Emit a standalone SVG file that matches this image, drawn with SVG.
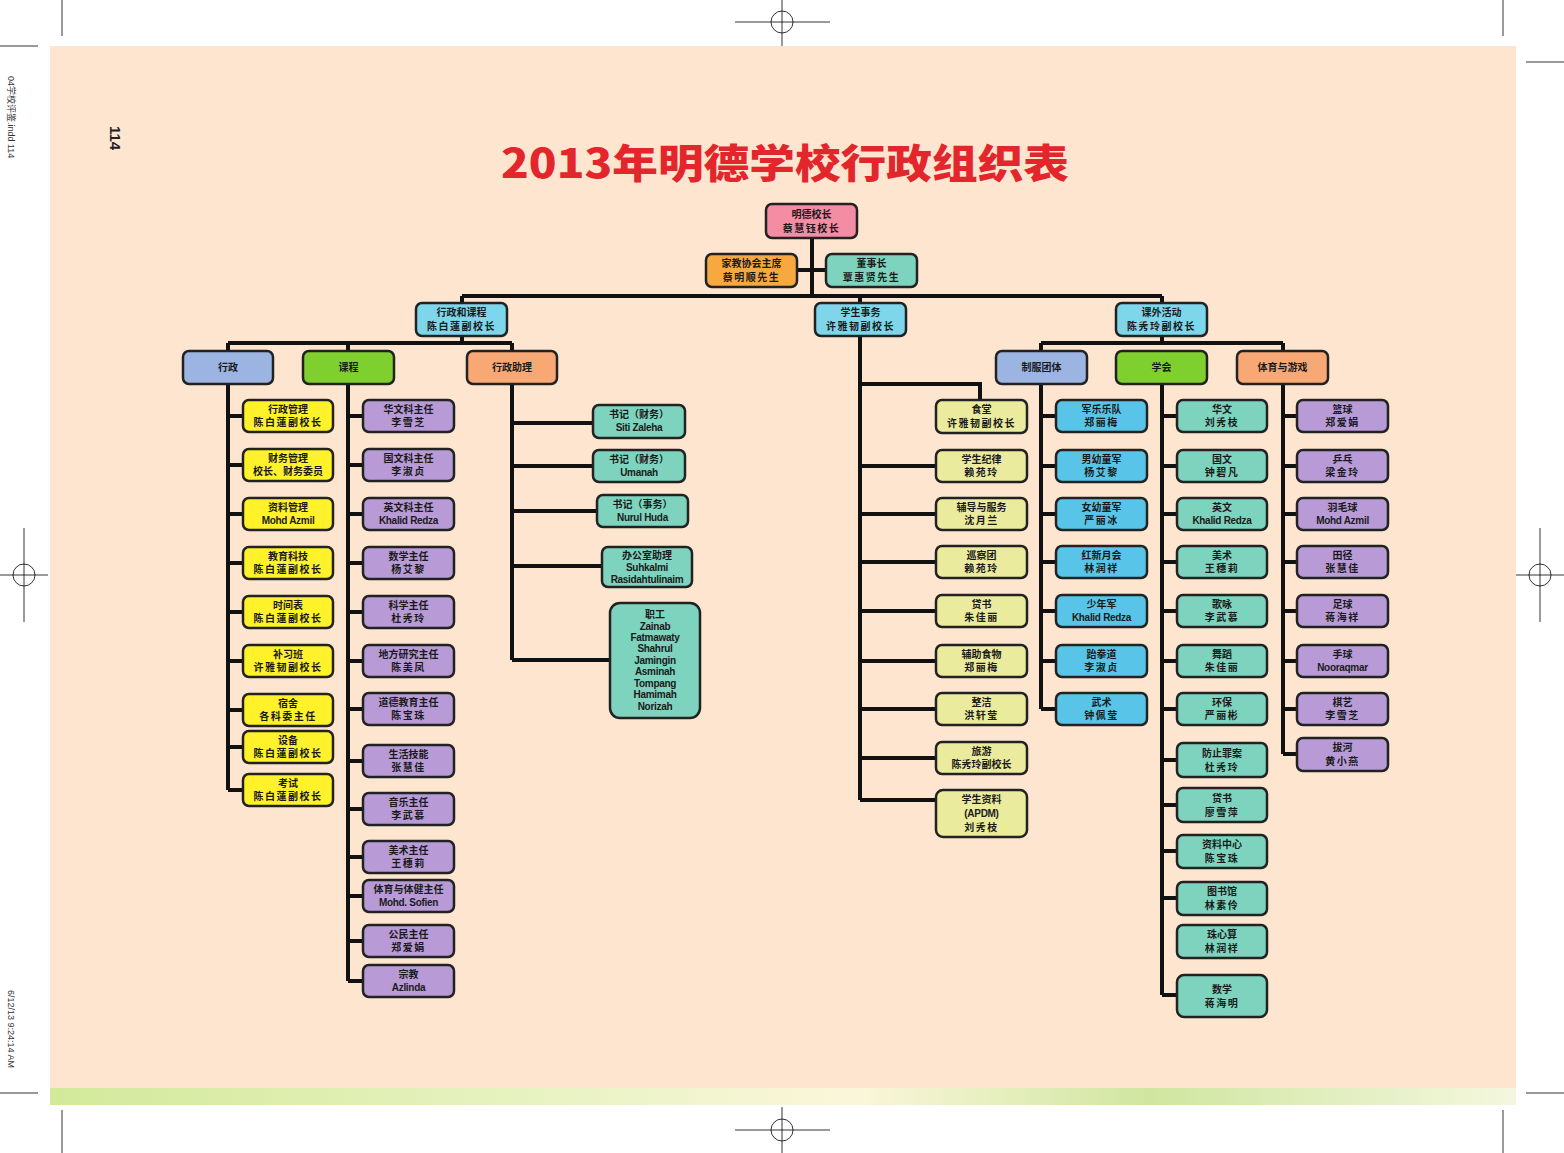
<svg xmlns="http://www.w3.org/2000/svg" width="1564" height="1153" viewBox="0 0 1564 1153">
<style>
.b{stroke:#222;stroke-width:2.5}
.pk{fill:#f48ca4}.or{fill:#f7a940}.tl{fill:#7dd3bd}.lb{fill:#7ed6ea}.bg{fill:#9cb4e2}.gr{fill:#7fcf2e}.ao{fill:#f8a875}
.yl{fill:#fff22a}.pu{fill:#b79ad6}.pg{fill:#ebeb9e}.cy{fill:#58c5e8}
.t{font-family:"Noto Sans CJK SC","Liberation Sans",sans-serif;font-weight:700;font-size:10px;text-anchor:middle;fill:#1a1a1a}
.l{font-family:"Liberation Sans","Noto Sans CJK SC",sans-serif;font-weight:700;font-size:10px;text-anchor:middle;fill:#1a1a1a;letter-spacing:-0.3px}
.n{letter-spacing:1.5px}
.c{fill:none;stroke:#111;stroke-width:4}
.m{fill:none;stroke:#000;stroke-width:0.8}
</style>
<defs>
<linearGradient id="gs" x1="0" y1="0" x2="1" y2="0">
<stop offset="0" stop-color="#d2e99a"/><stop offset="0.35" stop-color="#e9f3c4"/><stop offset="0.55" stop-color="#fbf6da"/><stop offset="0.75" stop-color="#cfe6a0"/><stop offset="1" stop-color="#f4f7de"/>
</linearGradient>
</defs>
<rect width="1564" height="1153" fill="#fff"/>
<rect x="50" y="46" width="1466" height="1043" fill="#fde5d0"/>
<rect x="50" y="1088" width="1466" height="17" fill="url(#gs)"/>
<!-- crop marks -->
<g id="marks">
<path class="m" d="M62 0V36M0 46H38M1503 0V36M1526 62H1564M62 1110V1153M0 1093H38M1503 1110V1153M1526 1093H1564"/>
<circle class="m" cx="782" cy="22" r="11"/><path class="m" d="M735 22H830M782 0V46"/>
<circle class="m" cx="782" cy="1130" r="11"/><path class="m" d="M735 1130H830M782 1107V1153"/>
<circle class="m" cx="24" cy="575" r="11"/><path class="m" d="M0 575H48M24 528V622"/>
<circle class="m" cx="1540" cy="575" r="11"/><path class="m" d="M1516 575H1564M1540 528V622"/>
</g>
<text x="8" y="76" transform="rotate(90 8 76)" style="font-family:'Liberation Sans','Noto Sans CJK SC',sans-serif;font-size:9px;fill:#333">04学校评鉴.indd   114</text>
<text x="8" y="990" transform="rotate(90 8 990)" style="font-family:'Liberation Sans',sans-serif;font-size:9px;fill:#333">6/12/13   9:24:14 AM</text>
<text x="110" y="126" transform="rotate(90 110 126)" style="font-family:'Liberation Sans',sans-serif;font-weight:700;font-size:15px;fill:#222">114</text>
<text x="785" y="178" textLength="568" lengthAdjust="spacingAndGlyphs" style="font-family:'Noto Sans CJK SC',sans-serif;font-weight:900;font-size:40px;text-anchor:middle;fill:#e2262c">2013年明德学校行政组织表</text>

<g id="connectors">
<path class="c" d="M812 238V296M797 270H826M462 296H1162M462 296V303M860 296V303M1162 296V303"/>
<path class="c" d="M462 336V343M228 343H512M228 343V351M348 343V351M512 343V351"/>
<path class="c" d="M228 384V790M228 416H243M228 465H243M228 514H243M228 563H243M228 612H243M228 661H243M228 710H243M228 747H243M228 790H243"/>
<path class="c" d="M348 384V981M348 416H363M348 465H363M348 514H363M348 563H363M348 612H363M348 661H363M348 709H363M348 761H363M348 809H363M348 857H363M348 896H363M348 941H363M348 981H363"/>
<path class="c" d="M512 384V660M512 423H593M512 466H593M512 511H597M512 566H602M512 660H610"/>
<path class="c" d="M860 336V800M860 384H980V400M860 466H936M860 514H936M860 562H936M860 611H936M860 661H936M860 709H936M860 758H936M860 800H936"/>
<path class="c" d="M1162 336V343M1041 343H1283M1041 343V351M1283 343V351"/>
<path class="c" d="M1041 384V709M1041 416H1056M1041 466H1056M1041 514H1056M1041 562H1056M1041 611H1056M1041 661H1056M1041 709H1056"/>
<path class="c" d="M1162 384V995M1162 416H1177M1162 466H1177M1162 514H1177M1162 562H1177M1162 611H1177M1162 661H1177M1162 709H1177M1162 760H1177M1162 805H1177M1162 851H1177M1162 898H1177M1162 995H1177"/>
<path class="c" d="M1283 384V754M1283 416H1297M1283 466H1297M1283 514H1297M1283 562H1297M1283 611H1297M1283 661H1297M1283 709H1297M1283 754H1297"/>
</g>

<!-- top -->
<g id="n-principal"><rect class="b pk" x="766" y="204" width="91" height="34" rx="6"/><text class="t" x="811.5" y="218">明德校长</text><text class="t n" x="811.5" y="232">蔡慧钰校长</text></g>
<g id="n-pta"><rect class="b or" x="706" y="254" width="91" height="33" rx="6"/><text class="t" x="751.5" y="267">家教协会主席</text><text class="t n" x="751.5" y="281">蔡明顺先生</text></g>
<g id="n-board"><rect class="b tl" x="826" y="254" width="91" height="33" rx="6"/><text class="t" x="871.5" y="267">董事长</text><text class="t n" x="871.5" y="281">覃惠贤先生</text></g>
<!-- level 2 -->
<g id="n-admincur"><rect class="b lb" x="416" y="303" width="91" height="33" rx="6"/><text class="t" x="461.5" y="316">行政和课程</text><text class="t n" x="461.5" y="330">陈白蓮副校长</text></g>
<g id="n-student"><rect class="b lb" x="815" y="303" width="91" height="33" rx="6"/><text class="t" x="860.5" y="316">学生事务</text><text class="t n" x="860.5" y="330">许雅韧副校长</text></g>
<g id="n-cocur"><rect class="b lb" x="1116" y="303" width="91" height="33" rx="6"/><text class="t" x="1161.5" y="316">课外活动</text><text class="t n" x="1161.5" y="330">陈秀玲副校长</text></g>
<!-- level 3 -->
<g id="n-admin"><rect class="b bg" x="183" y="351" width="90" height="33" rx="6"/><text class="t" x="228" y="371">行政</text></g>
<g id="n-cur"><rect class="b gr" x="303" y="351" width="91" height="33" rx="6"/><text class="t" x="348.5" y="371">课程</text></g>
<g id="n-assist"><rect class="b ao" x="467" y="351" width="90" height="33" rx="6"/><text class="t" x="512" y="371">行政助理</text></g>
<g id="n-uniform"><rect class="b bg" x="996" y="351" width="91" height="33" rx="6"/><text class="t" x="1041.5" y="371">制服团体</text></g>
<g id="n-society"><rect class="b gr" x="1116" y="351" width="91" height="33" rx="6"/><text class="t" x="1161.5" y="371">学会</text></g>
<g id="n-sports"><rect class="b ao" x="1237" y="351" width="91" height="33" rx="6"/><text class="t" x="1282.5" y="371">体育与游戏</text></g>

<!-- 行政 column -->
<g id="a1"><rect class="b yl" x="243" y="400" width="90" height="32" rx="6"/><text class="t" x="288" y="413">行政管理</text><text class="t n" x="288" y="426">陈白蓮副校长</text></g>
<g id="a2"><rect class="b yl" x="243" y="449" width="90" height="32" rx="6"/><text class="t" x="288" y="462">财务管理</text><text class="t" x="288" y="475">校长、财务委员</text></g>
<g id="a3"><rect class="b yl" x="243" y="498" width="90" height="32" rx="6"/><text class="t" x="288" y="511">资料管理</text><text class="l" x="288" y="524">Mohd Azmil</text></g>
<g id="a4"><rect class="b yl" x="243" y="547" width="90" height="32" rx="6"/><text class="t" x="288" y="560">教育科技</text><text class="t n" x="288" y="573">陈白蓮副校长</text></g>
<g id="a5"><rect class="b yl" x="243" y="596" width="90" height="32" rx="6"/><text class="t" x="288" y="609">时间表</text><text class="t n" x="288" y="622">陈白蓮副校长</text></g>
<g id="a6"><rect class="b yl" x="243" y="645" width="90" height="32" rx="6"/><text class="t" x="288" y="658">补习班</text><text class="t n" x="288" y="671">许雅韧副校长</text></g>
<g id="a7"><rect class="b yl" x="243" y="694" width="90" height="32" rx="6"/><text class="t" x="288" y="707">宿舍</text><text class="t n" x="288" y="720">各科委主任</text></g>
<g id="a8"><rect class="b yl" x="243" y="731" width="90" height="32" rx="6"/><text class="t" x="288" y="744">设备</text><text class="t n" x="288" y="757">陈白蓮副校长</text></g>
<g id="a9"><rect class="b yl" x="243" y="774" width="90" height="32" rx="6"/><text class="t" x="288" y="787">考试</text><text class="t n" x="288" y="800">陈白蓮副校长</text></g>

<!-- 课程 column -->
<g id="c1"><rect class="b pu" x="363" y="400" width="91" height="32" rx="6"/><text class="t" x="408.5" y="413">华文科主任</text><text class="t n" x="408.5" y="426">李雪芝</text></g>
<g id="c2"><rect class="b pu" x="363" y="449" width="91" height="32" rx="6"/><text class="t" x="408.5" y="462">国文科主任</text><text class="t n" x="408.5" y="475">李淑贞</text></g>
<g id="c3"><rect class="b pu" x="363" y="498" width="91" height="32" rx="6"/><text class="t" x="408.5" y="511">英文科主任</text><text class="l" x="408.5" y="524">Khalid Redza</text></g>
<g id="c4"><rect class="b pu" x="363" y="547" width="91" height="32" rx="6"/><text class="t" x="408.5" y="560">数学主任</text><text class="t n" x="408.5" y="573">杨艾黎</text></g>
<g id="c5"><rect class="b pu" x="363" y="596" width="91" height="32" rx="6"/><text class="t" x="408.5" y="609">科学主任</text><text class="t n" x="408.5" y="622">杜秀玲</text></g>
<g id="c6"><rect class="b pu" x="363" y="645" width="91" height="32" rx="6"/><text class="t" x="408.5" y="658">地方研究主任</text><text class="t n" x="408.5" y="671">陈美凤</text></g>
<g id="c7"><rect class="b pu" x="363" y="693" width="91" height="32" rx="6"/><text class="t" x="408.5" y="706">道德教育主任</text><text class="t n" x="408.5" y="719">陈宝珠</text></g>
<g id="c8"><rect class="b pu" x="363" y="745" width="91" height="32" rx="6"/><text class="t" x="408.5" y="758">生活技能</text><text class="t n" x="408.5" y="771">张慧佳</text></g>
<g id="c9"><rect class="b pu" x="363" y="793" width="91" height="32" rx="6"/><text class="t" x="408.5" y="806">音乐主任</text><text class="t n" x="408.5" y="819">李武慕</text></g>
<g id="c10"><rect class="b pu" x="363" y="841" width="91" height="32" rx="6"/><text class="t" x="408.5" y="854">美术主任</text><text class="t n" x="408.5" y="867">王穗莉</text></g>
<g id="c11"><rect class="b pu" x="363" y="880" width="91" height="32" rx="6"/><text class="t" x="408.5" y="893">体育与体健主任</text><text class="l" x="408.5" y="906">Mohd. Sofien</text></g>
<g id="c12"><rect class="b pu" x="363" y="925" width="91" height="32" rx="6"/><text class="t" x="408.5" y="938">公民主任</text><text class="t n" x="408.5" y="951">郑爱娟</text></g>
<g id="c13"><rect class="b pu" x="363" y="965" width="91" height="32" rx="6"/><text class="t" x="408.5" y="978">宗教</text><text class="l" x="408.5" y="991">Azlinda</text></g>

<!-- 行政助理 column -->
<g id="s1"><rect class="b tl" x="593" y="405" width="92" height="33" rx="6"/><text class="t" x="639" y="418">书记（财务）</text><text class="l" x="639" y="431">Siti Zaleha</text></g>
<g id="s2"><rect class="b tl" x="593" y="450" width="92" height="32" rx="6"/><text class="t" x="639" y="463">书记（财务）</text><text class="l" x="639" y="476">Umanah</text></g>
<g id="s3"><rect class="b tl" x="597" y="495" width="91" height="32" rx="6"/><text class="t" x="642.5" y="508">书记（事务）</text><text class="l" x="642.5" y="521">Nurul  Huda</text></g>
<g id="s4"><rect class="b tl" x="602" y="547" width="90" height="40" rx="6"/><text class="t" x="647" y="559">办公室助理</text><text class="l" x="647" y="571">Suhkalmi</text><text class="l" x="647" y="583">Rasidahtulinaim</text></g>
<g id="s5"><rect class="b tl" x="610" y="603" width="90" height="115" rx="10"/><text class="t" x="655" y="618">职工</text><text class="l" x="655" y="630">Zainab</text><text class="l" x="655" y="641">Fatmawaty</text><text class="l" x="655" y="652">Shahrul</text><text class="l" x="655" y="664">Jamingin</text><text class="l" x="655" y="675">Asminah</text><text class="l" x="655" y="687">Tompang</text><text class="l" x="655" y="698">Hamimah</text><text class="l" x="655" y="710">Norizah</text></g>

<!-- 学生事务 column -->
<g id="p1"><rect class="b pg" x="936" y="400" width="91" height="33" rx="6"/><text class="t" x="981.5" y="413">食堂</text><text class="t n" x="981.5" y="427">许雅韧副校长</text></g>
<g id="p2"><rect class="b pg" x="936" y="450" width="91" height="32" rx="6"/><text class="t" x="981.5" y="463">学生纪律</text><text class="t n" x="981.5" y="476">赖苑玲</text></g>
<g id="p3"><rect class="b pg" x="936" y="498" width="91" height="32" rx="6"/><text class="t" x="981.5" y="511">辅导与服务</text><text class="t n" x="981.5" y="524">沈月兰</text></g>
<g id="p4"><rect class="b pg" x="936" y="546" width="91" height="32" rx="6"/><text class="t" x="981.5" y="559">巡察团</text><text class="t n" x="981.5" y="572">赖苑玲</text></g>
<g id="p5"><rect class="b pg" x="936" y="595" width="91" height="32" rx="6"/><text class="t" x="981.5" y="608">贷书</text><text class="t n" x="981.5" y="621">朱佳丽</text></g>
<g id="p6"><rect class="b pg" x="936" y="645" width="91" height="32" rx="6"/><text class="t" x="981.5" y="658">辅助食物</text><text class="t n" x="981.5" y="671">郑丽梅</text></g>
<g id="p7"><rect class="b pg" x="936" y="693" width="91" height="32" rx="6"/><text class="t" x="981.5" y="706">整洁</text><text class="t n" x="981.5" y="719">洪轩莹</text></g>
<g id="p8"><rect class="b pg" x="936" y="742" width="91" height="32" rx="6"/><text class="t" x="981.5" y="755">旅游</text><text class="t" x="981.5" y="768">陈秀玲副校长</text></g>
<g id="p9"><rect class="b pg" x="936" y="790" width="91" height="47" rx="7"/><text class="t" x="981.5" y="803">学生资料</text><text class="l" x="981.5" y="817">(APDM)</text><text class="t n" x="981.5" y="831">刘秀枝</text></g>

<!-- 制服团体 column -->
<g id="u1"><rect class="b cy" x="1056" y="400" width="91" height="32" rx="6"/><text class="t" x="1101.5" y="413">军乐乐队</text><text class="t n" x="1101.5" y="426">郑丽梅</text></g>
<g id="u2"><rect class="b cy" x="1056" y="450" width="91" height="32" rx="6"/><text class="t" x="1101.5" y="463">男幼童军</text><text class="t n" x="1101.5" y="476">杨艾黎</text></g>
<g id="u3"><rect class="b cy" x="1056" y="498" width="91" height="32" rx="6"/><text class="t" x="1101.5" y="511">女幼童军</text><text class="t n" x="1101.5" y="524">严丽冰</text></g>
<g id="u4"><rect class="b cy" x="1056" y="546" width="91" height="32" rx="6"/><text class="t" x="1101.5" y="559">红新月会</text><text class="t n" x="1101.5" y="572">林润祥</text></g>
<g id="u5"><rect class="b cy" x="1056" y="595" width="91" height="32" rx="6"/><text class="t" x="1101.5" y="608">少年军</text><text class="l" x="1101.5" y="621">Khalid Redza</text></g>
<g id="u6"><rect class="b cy" x="1056" y="645" width="91" height="32" rx="6"/><text class="t" x="1101.5" y="658">跆拳道</text><text class="t n" x="1101.5" y="671">李淑贞</text></g>
<g id="u7"><rect class="b cy" x="1056" y="693" width="91" height="32" rx="6"/><text class="t" x="1101.5" y="706">武术</text><text class="t n" x="1101.5" y="719">钟佩莹</text></g>

<!-- 学会 column -->
<g id="h1"><rect class="b tl" x="1177" y="400" width="90" height="32" rx="6"/><text class="t" x="1222" y="413">华文</text><text class="t n" x="1222" y="426">刘秀枝</text></g>
<g id="h2"><rect class="b tl" x="1177" y="450" width="90" height="32" rx="6"/><text class="t" x="1222" y="463">国文</text><text class="t n" x="1222" y="476">钟碧凡</text></g>
<g id="h3"><rect class="b tl" x="1177" y="498" width="90" height="32" rx="6"/><text class="t" x="1222" y="511">英文</text><text class="l" x="1222" y="524">Khalid Redza</text></g>
<g id="h4"><rect class="b tl" x="1177" y="546" width="90" height="32" rx="6"/><text class="t" x="1222" y="559">美术</text><text class="t n" x="1222" y="572">王穗莉</text></g>
<g id="h5"><rect class="b tl" x="1177" y="595" width="90" height="32" rx="6"/><text class="t" x="1222" y="608">歌咏</text><text class="t n" x="1222" y="621">李武慕</text></g>
<g id="h6"><rect class="b tl" x="1177" y="645" width="90" height="32" rx="6"/><text class="t" x="1222" y="658">舞蹈</text><text class="t n" x="1222" y="671">朱佳丽</text></g>
<g id="h7"><rect class="b tl" x="1177" y="693" width="90" height="32" rx="6"/><text class="t" x="1222" y="706">环保</text><text class="t n" x="1222" y="719">严丽彬</text></g>
<g id="h8"><rect class="b tl" x="1177" y="743" width="90" height="34" rx="6"/><text class="t" x="1222" y="757">防止罪案</text><text class="t n" x="1222" y="771">杜秀玲</text></g>
<g id="h9"><rect class="b tl" x="1177" y="788" width="90" height="34" rx="6"/><text class="t" x="1222" y="802">贷书</text><text class="t n" x="1222" y="816">廖雪萍</text></g>
<g id="h10"><rect class="b tl" x="1177" y="835" width="90" height="33" rx="6"/><text class="t" x="1222" y="848">资料中心</text><text class="t n" x="1222" y="862">陈宝珠</text></g>
<g id="h11"><rect class="b tl" x="1177" y="882" width="90" height="33" rx="6"/><text class="t" x="1222" y="895">图书馆</text><text class="t n" x="1222" y="909">林素伶</text></g>
<g id="h12"><rect class="b tl" x="1177" y="925" width="90" height="33" rx="6"/><text class="t" x="1222" y="938">珠心算</text><text class="t n" x="1222" y="952">林润祥</text></g>
<g id="h13"><rect class="b tl" x="1177" y="975" width="90" height="42" rx="7"/><text class="t" x="1222" y="993">数学</text><text class="t n" x="1222" y="1007">蒋海明</text></g>

<!-- 体育与游戏 column -->
<g id="g1"><rect class="b pu" x="1297" y="400" width="91" height="32" rx="6"/><text class="t" x="1342.5" y="413">篮球</text><text class="t n" x="1342.5" y="426">郑爱娟</text></g>
<g id="g2"><rect class="b pu" x="1297" y="450" width="91" height="32" rx="6"/><text class="t" x="1342.5" y="463">乒乓</text><text class="t n" x="1342.5" y="476">梁金玲</text></g>
<g id="g3"><rect class="b pu" x="1297" y="498" width="91" height="32" rx="6"/><text class="t" x="1342.5" y="511">羽毛球</text><text class="l" x="1342.5" y="524">Mohd Azmil</text></g>
<g id="g4"><rect class="b pu" x="1297" y="546" width="91" height="32" rx="6"/><text class="t" x="1342.5" y="559">田径</text><text class="t n" x="1342.5" y="572">张慧佳</text></g>
<g id="g5"><rect class="b pu" x="1297" y="595" width="91" height="32" rx="6"/><text class="t" x="1342.5" y="608">足球</text><text class="t n" x="1342.5" y="621">蒋海祥</text></g>
<g id="g6"><rect class="b pu" x="1297" y="645" width="91" height="32" rx="6"/><text class="t" x="1342.5" y="658">手球</text><text class="l" x="1342.5" y="671">Nooraqmar</text></g>
<g id="g7"><rect class="b pu" x="1297" y="693" width="91" height="32" rx="6"/><text class="t" x="1342.5" y="706">棋艺</text><text class="t n" x="1342.5" y="719">李雪芝</text></g>
<g id="g8"><rect class="b pu" x="1297" y="738" width="91" height="33" rx="6"/><text class="t" x="1342.5" y="751">拔河</text><text class="t n" x="1342.5" y="765">黄小燕</text></g>
</svg>
